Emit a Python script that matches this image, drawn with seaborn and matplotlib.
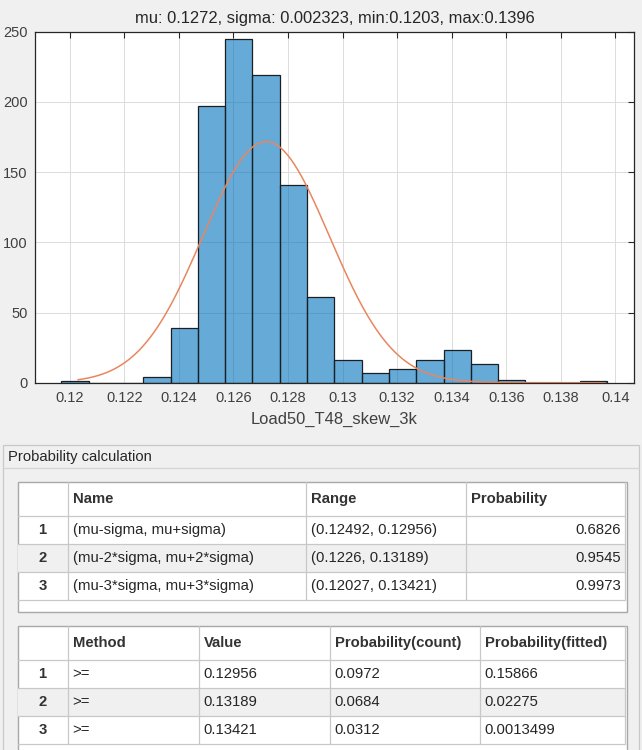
import numpy as np
import matplotlib
matplotlib.use("Agg")
import matplotlib.pyplot as plt
import seaborn as sns
from matplotlib.patches import Rectangle

# fit parameters (from the title)
mu = 0.1272
sigma = 0.002323
x_min = 0.1203
x_max = 0.1396
n_samples = 1000
var_name = "Load50_T48_skew_3k"

bin_edges = [0.1197, 0.1207, 0.1217, 0.1227, 0.1237, 0.1247, 0.1257, 0.1267,
             0.1277, 0.1287, 0.1297, 0.1307, 0.1317, 0.1327, 0.1337, 0.1347,
             0.1357, 0.1367, 0.1377, 0.1387, 0.1397]
bin_counts = [1, 0, 0, 4, 39, 197, 245, 219, 141, 61, 16, 7, 10, 16, 23, 13,
              2, 0, 0, 1]
x_ticks = [0.12, 0.122, 0.124, 0.126, 0.128, 0.13, 0.132, 0.134, 0.136, 0.138, 0.14]
x_tick_labels = ["0.12", "0.122", "0.124", "0.126", "0.128", "0.13", "0.132",
                 "0.134", "0.136", "0.138", "0.14"]
y_ticks = [0, 50, 100, 150, 200, 250]

# table 1
t1_header = ["Name", "Range", "Probability"]
range_names = ["(mu-sigma, mu+sigma)", "(mu-2*sigma, mu+2*sigma)", "(mu-3*sigma, mu+3*sigma)"]
range_values = ["(0.12492, 0.12956)", "(0.1226, 0.13189)", "(0.12027, 0.13421)"]
range_probs = ["0.6826", "0.9545", "0.9973"]

# table 2
t2_header = ["Method", "Value", "Probability(count)", "Probability(fitted)"]
methods = [">=", ">=", ">="]
thresholds = ["0.12956", "0.13189", "0.13421"]
prob_count = ["0.0972", "0.0684", "0.0312"]
prob_fitted = ["0.15866", "0.02275", "0.0013499"]

sns.set_style("white")
plt.rcParams['font.family'] = ['Liberation Sans', 'DejaVu Sans']

W, H = 642, 750
fig = plt.figure(figsize=(W / 100, H / 100), dpi=100)
fig.patch.set_facecolor("#f0f0f0")

# ---------- histogram ----------
ax = fig.add_axes([34.8 / W, 1 - 382.7 / H, (634 - 34.8) / W, (382.7 - 31.7) / H])
ax.set_facecolor("white")
centers = [(a + b) / 2 for a, b in zip(bin_edges[:-1], bin_edges[1:])]
sns.histplot(x=centers, weights=bin_counts, bins=bin_edges, ax=ax,
             color="#0072bd", edgecolor="#1a1a1a", linewidth=0.9)
for p in ax.patches:
    p.set_alpha(None)
    p.set_facecolor((0.0, 0.447, 0.741, 0.6))
    p.set_edgecolor((0.1, 0.12, 0.14, 1.0))

binw = bin_edges[1] - bin_edges[0]
xs = np.linspace(x_min, x_max, 300)
ys = n_samples * binw * np.exp(-0.5 * ((xs - mu) / sigma) ** 2) / (sigma * np.sqrt(2 * np.pi))
ax.plot(xs, ys, color="#e8875f", lw=1.1)

ax.set_xlim(0.118725, 0.140678)
ax.set_ylim(0, 250)
ax.set_xticks(x_ticks)
ax.set_xticklabels(x_tick_labels)
ax.set_yticks(y_ticks)
ax.grid(True, color="#dcdcdc", lw=0.7)
ax.set_axisbelow(True)
ax.tick_params(direction="in", top=True, right=True, length=4, width=0.8,
               colors="#262626", labelcolor="#404040", labelsize=10.5, pad=6)
ax.tick_params(axis="y", pad=5)
for s in ax.spines.values():
    s.set_color("#262626")
    s.set_linewidth(0.9)
ax.set_ylabel("")
ax.set_xlabel(var_name, fontsize=11.9, color="#404040", labelpad=5)
ax.set_title(f"mu: {mu}, sigma: {sigma}, min:{x_min}, max:{x_max}",
             fontsize=11.9, color="#262626", pad=6)

# ---------- probability panel ----------
tb = fig.add_axes([0, 0, 1, (H - 440) / H])
tb.set_xlim(0, W)
tb.set_ylim(H, 440)
tb.axis("off")

tb.add_patch(Rectangle((3.3, 445), 636, 320, facecolor="#f0f0f0", edgecolor="#c8c8c8", lw=0.9))
tb.plot([3.3, 639.3], [468.3, 468.3], color="#d4d4d4", lw=0.9)
tb.text(8, 457, "Probability calculation", fontsize=10.6, color="#262626", va="center")

grid_c = "#c8c8c8"
border_c = "#a8a8a8"
txt_c = "#262626"
fs = 10.7


def draw_table(x0, x1, y_top, y_bottom, header_h, row_h, col_x, header, rows, right_align):
    tb.add_patch(Rectangle((x0, y_top), x1 - x0, y_bottom - y_top,
                           facecolor="white", edgecolor=border_c, lw=1.0, zorder=1))
    y = y_top + header_h
    n_rows = len(rows[0])
    for i in range(n_rows):
        if i % 2 == 1:
            tb.add_patch(Rectangle((x0, y + i * row_h), col_x[-1] - x0, row_h,
                                   facecolor="#f0f0f0", edgecolor="none", zorder=1.5))
    # horizontal lines
    for i in range(n_rows + 1):
        yy = y + i * row_h
        tb.plot([x0, col_x[-1]], [yy, yy], color=grid_c, lw=0.9, zorder=2)
    # vertical lines
    y_end = y + n_rows * row_h
    for cx in col_x:
        tb.plot([cx, cx], [y_top, y_end], color=grid_c, lw=0.9, zorder=2)
    # header
    for j, h in enumerate(header):
        tb.text(col_x[j] + 5, y_top + header_h / 2, h, fontsize=fs, fontweight="bold",
                color="#333333", va="center", ha="left", zorder=3)
    for i in range(n_rows):
        yc = y + (i + 0.5) * row_h
        tb.text((x0 + col_x[0]) / 2, yc, str(i + 1), fontsize=fs, fontweight="bold",
                color="#333333", va="center", ha="center", zorder=3)
        for j, col in enumerate(rows):
            if right_align[j]:
                tb.text(col_x[j + 1] - 4, yc, col[i], fontsize=fs, color=txt_c,
                        va="center", ha="right", zorder=3)
            else:
                tb.text(col_x[j] + 5, yc, col[i], fontsize=fs, color=txt_c,
                        va="center", ha="left", zorder=3)


draw_table(17.6, 626.5, 482.3, 612.3, 33.7, 28.0,
           [67.6, 306.3, 466.4, 625.3], t1_header,
           [range_names, range_values, range_probs], [False, False, True])
draw_table(17.6, 626.5, 625.7, 760, 34.3, 28.0,
           [67.6, 198.6, 329.6, 479.5, 625.3], t2_header,
           [methods, thresholds, prob_count, prob_fitted], [False, False, False, False])

fig.savefig("out.png", dpi=100, facecolor=fig.get_facecolor())
